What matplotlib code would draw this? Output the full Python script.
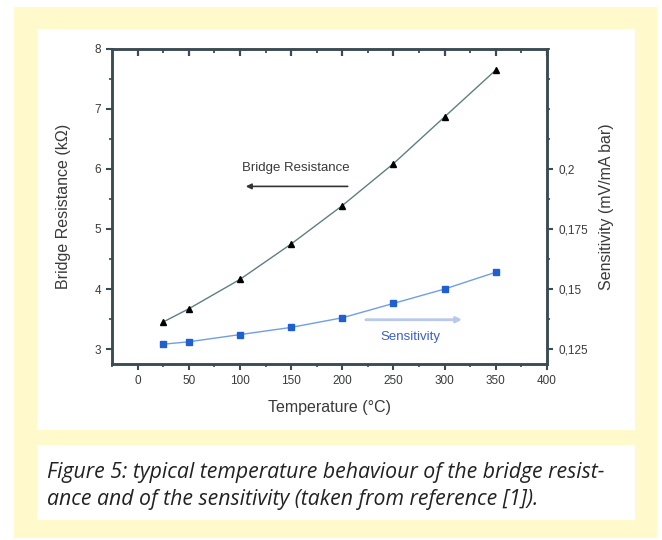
import matplotlib
matplotlib.use("Agg")
import matplotlib.pyplot as plt
from matplotlib.patches import Rectangle
from matplotlib.ticker import MultipleLocator

temperature = [25, 50, 100, 150, 200, 250, 300, 350]
resistance = [3.45, 3.67, 4.16, 4.75, 5.39, 6.09, 6.87, 7.65]
sensitivity = [0.127, 0.128, 0.131, 0.134, 0.138, 0.144, 0.150, 0.157]
x_ticks = [0, 50, 100, 150, 200, 250, 300, 350, 400]
left_ticks = [3, 4, 5, 6, 7, 8]
right_ticks = [0.125, 0.15, 0.175, 0.2]
right_tick_labels = ["0,125", "0,15", "0,175", "0,2"]

W, H = 662, 540
fig = plt.figure(figsize=(W / 100, H / 100), dpi=100, facecolor="white")

def rect(x0, y0, x1, y1, color):
    fig.patches.append(Rectangle((x0 / W, 1 - y1 / H), (x1 - x0) / W, (y1 - y0) / H,
                                 transform=fig.transFigure, facecolor=color,
                                 edgecolor="none", zorder=-10))

yellow = "#FFF9CC"
rect(14, 7, 657, 538, yellow)
rect(37, 29, 635, 430, "white")
rect(37, 445, 635, 520, "white")

axc = "#3b4b52"
txtc = "#3a3a3a"
ax = fig.add_axes([112 / W, 1 - 364 / H, (547 - 112) / W, (364 - 49) / H])
ax.set_facecolor("white")
ax.set_xlim(-25, 400)
ax.set_ylim(2.75, 8)

ax.plot(temperature, resistance, color="#5f7f80", lw=1.0, marker="^", ms=5,
        mfc="black", mec="black", zorder=3)

ax2 = ax.twinx()
ax2.set_ylim(0.11875, 0.25)
ax2.plot(temperature, sensitivity, color="#6f9ee8", lw=1.0, marker="s", ms=4.5,
         mfc="#1f5fd0", mec="#1f5fd0", zorder=3)

for a in (ax, ax2):
    for s in a.spines.values():
        s.set_color(axc)
        s.set_linewidth(1.8)

ax.set_xticks(x_ticks)
ax.xaxis.set_minor_locator(MultipleLocator(25))
ax.set_yticks(left_ticks)
ax.yaxis.set_minor_locator(MultipleLocator(0.5))
ax2.set_yticks(right_ticks)
ax2.set_yticklabels(right_tick_labels)
ax2.yaxis.set_minor_locator(MultipleLocator(0.0125))

ax.tick_params(axis="both", which="major", direction="out", length=4, width=1.5,
               color=axc, labelsize=8.5, labelcolor=txtc, pad=4)
ax.tick_params(axis="both", which="minor", direction="out", length=2.5, width=1.2,
               color=axc)
ax2.tick_params(axis="y", which="major", direction="out", length=4, width=1.5,
                color=axc, labelsize=8.5, labelcolor=txtc, pad=4)
ax2.tick_params(axis="y", which="minor", direction="out", length=2.5, width=1.2, color=axc)

# inward tick marks along the top spine, drawn at the same x tick positions
ax.plot(x_ticks, [1] * len(x_ticks), transform=ax.get_xaxis_transform(),
        marker=3, ms=5, mew=1.6, color=axc, ls="none", clip_on=False, zorder=5)
minor_x = [v + 25 for v in x_ticks[:-1]]
ax.plot(minor_x, [1] * len(minor_x), transform=ax.get_xaxis_transform(),
        marker=3, ms=3, mew=1.3, color=axc, ls="none", clip_on=False, zorder=5)
ax.plot([-25 + 25 * 0], [1], alpha=0)

for lab in ax.get_xticklabels() + ax.get_yticklabels() + ax2.get_yticklabels():
    lab.set_family("Liberation Sans")

lab_font = dict(fontsize=11.5, family="Liberation Sans", color=txtc)
ax.set_xlabel("Temperature (°C)", labelpad=9, **lab_font)
ax.set_ylabel("Bridge Resistance (kΩ)", labelpad=17, **lab_font)
ax2.set_ylabel("Sensitivity (mV/mA bar)", labelpad=8, **lab_font)

ax.text(155, 6.01, "Bridge Resistance", ha="center", va="center",
        fontsize=9.5, family="Liberation Sans", color=txtc)
ax.annotate("", xy=(103, 5.71), xytext=(208, 5.71),
            arrowprops=dict(arrowstyle="-|>", color="#333333", lw=1.2,
                            mutation_scale=8))

ax2.text(267, 0.130, "Sensitivity", ha="center", va="center",
         fontsize=9.5, family="Liberation Sans", color="#3a5fc8")
ax2.annotate("", xy=(317, 0.1372), xytext=(223, 0.1372),
             arrowprops=dict(arrowstyle="-|>", color="#b8c8ee", lw=2.0,
                             mutation_scale=8, shrinkA=0, shrinkB=0))

cap = dict(fontsize=15.3, family="Open Sans", style="italic", color="#222222",
           va="baseline")
fig.text(47 / W, 1 - 478 / H,
         "Figure 5: typical temperature behaviour of the bridge resist-", **cap)
fig.text(47 / W, 1 - 505 / H,
         "ance and of the sensitivity (taken from reference [1]).", **cap)

fig.savefig("out.png", dpi=100, facecolor="white")
